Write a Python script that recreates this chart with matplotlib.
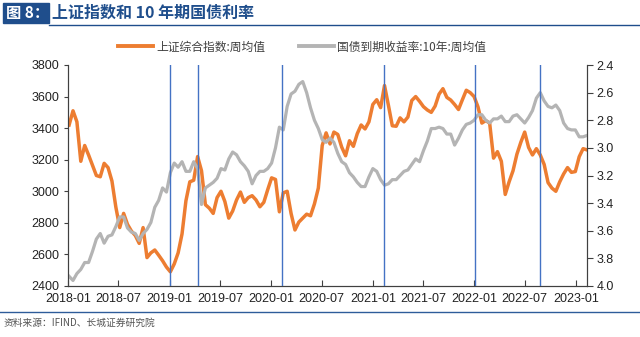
import pandas as pd
import matplotlib.pyplot as plt
import matplotlib.dates as mdates
from matplotlib.patches import Rectangle
from matplotlib.lines import Line2D

CJK = ['Noto Sans CJK SC', 'DejaVu Sans']
plt.rcParams['font.family'] = ['Liberation Sans', 'Noto Sans CJK SC']

# biweekly samples
dates = pd.date_range('2018-01-05', periods=134, freq='14D')

sh_index = [
    3420, 3510, 3440, 3190, 3290, 3230, 3165, 3100, 3092, 3177,
    3150, 3065, 2900, 2770, 2860, 2790, 2748, 2720, 2670, 2770,
    2580, 2610, 2628, 2595, 2560, 2520, 2490, 2540, 2610, 2730,
    2940, 3060, 3070, 3220, 3130, 2915, 2893, 2860, 2960, 3000,
    2935, 2830, 2875, 2945, 2995, 2930, 2960, 2972, 2945, 2902,
    2930, 3010, 3085, 3075, 2870, 2990, 3000, 2860, 2755, 2805,
    2830, 2855, 2845, 2920, 3020, 3290, 3370, 3300, 3375, 3360,
    3280, 3225, 3320, 3285, 3365, 3420, 3395, 3440, 3550, 3580,
    3530, 3670, 3545, 3415, 3412, 3465, 3440, 3470, 3575, 3600,
    3570, 3536, 3515, 3500, 3540, 3615, 3650, 3595, 3578, 3550,
    3518, 3580, 3640, 3625, 3600, 3535, 3432, 3448, 3432, 3210,
    3251, 3190, 2980, 3060, 3130, 3235, 3310, 3375, 3278, 3230,
    3270, 3230, 3170, 3055, 3020, 3000, 3060, 3110, 3150, 3120,
    3125, 3219, 3270, 3262,
]

cn10y = [
    3.93, 3.96, 3.91, 3.88, 3.83, 3.83, 3.75, 3.66, 3.62, 3.69,
    3.64, 3.63, 3.57, 3.50, 3.50, 3.58, 3.61, 3.62, 3.67, 3.62,
    3.59, 3.54, 3.43, 3.38, 3.29, 3.32, 3.18, 3.11, 3.14, 3.10,
    3.17, 3.17, 3.10, 3.15, 3.41, 3.29, 3.27, 3.25, 3.22, 3.15,
    3.16, 3.08, 3.03, 3.05, 3.10, 3.13, 3.17, 3.26, 3.20, 3.17,
    3.17, 3.15, 3.11, 3.00, 2.85, 2.87, 2.70, 2.61, 2.59, 2.54,
    2.52, 2.60, 2.71, 2.80, 2.86, 2.94, 2.96, 2.93, 2.96, 3.04,
    3.10, 3.12, 3.18, 3.21, 3.25, 3.28, 3.28, 3.21, 3.15, 3.17,
    3.23, 3.27, 3.26, 3.23, 3.23, 3.20, 3.17, 3.16, 3.12, 3.08,
    3.10, 3.02, 2.95, 2.86, 2.86, 2.85, 2.86, 2.90, 2.90, 2.98,
    2.93, 2.87, 2.83, 2.82, 2.80, 2.76, 2.76, 2.80, 2.82, 2.79,
    2.79, 2.77, 2.81, 2.81, 2.77, 2.76, 2.79, 2.82, 2.78, 2.73,
    2.64, 2.60, 2.66, 2.70, 2.71, 2.69, 2.73, 2.82, 2.86, 2.87,
    2.87, 2.92, 2.92, 2.91,
]

event_dates = ['2019-01-02', '2019-04-12', '2020-02-10',
               '2021-02-09', '2022-01-02', '2022-08-26']

label_sh = '上证综合指数:周均值'
label_bond = '国债到期收益率:10年:周均值'
title = '上证指数和 10 年期国债利率'
fig_no = '图 8：'
source = '资料来源：IFIND、长城证券研究院'

ORANGE = '#ED7D31'
GRAY = '#B4B4B4'
BLUE = '#4472C4'
NAVY = '#1F4E8C'

W, H = 640, 337
fig = plt.figure(figsize=(W / 100, H / 100), dpi=100)


def fx(px):
    return px / W


def fy(py):
    return 1 - py / H


ax = fig.add_axes([fx(68), fy(286), fx(587) - fx(68), fy(65) - fy(286)])
ax2 = ax.twinx()

ax.plot(dates, sh_index, color=ORANGE, lw=2.5, solid_joinstyle='round', zorder=2)
ax2.plot(dates, cn10y, color=GRAY, lw=2.3, solid_joinstyle='round', zorder=2)
for d in event_dates:
    ax2.axvline(pd.Timestamp(d), color=BLUE, lw=1.0, zorder=5)

ax.set_xlim(pd.Timestamp('2018-01-01'), dates[-1])
ax.set_ylim(2400, 3800)
ax.set_yticks(range(2400, 3801, 200))
ax2.set_ylim(4.0, 2.4)
ax2.set_yticks([2.4, 2.6, 2.8, 3.0, 3.2, 3.4, 3.6, 3.8, 4.0])
ax2.yaxis.set_major_formatter(plt.FormatStrFormatter('%.1f'))

xt = pd.date_range('2018-01-01', '2023-01-01', freq='6MS')
ax.set_xticks(xt)
ax.xaxis.set_major_formatter(mdates.DateFormatter('%Y-%m'))

for a in (ax, ax2):
    a.spines['top'].set_visible(False)
    for s in a.spines.values():
        s.set_color('#404040')
        s.set_linewidth(0.8)
ax.tick_params(axis='x', direction='in', length=4, width=0.8, labelsize=9,
               colors='#404040', labelcolor='#222222', pad=5)
ax.tick_params(axis='y', direction='out', length=3, width=0.8, labelsize=9,
               colors='#404040', labelcolor='#222222', pad=3)
ax2.tick_params(axis='y', direction='out', length=4, width=0.8, labelsize=9,
                colors='#404040', labelcolor='#222222', pad=3)

handles = [Line2D([], [], color=ORANGE, lw=2.8),
           Line2D([], [], color=GRAY, lw=2.8)]
fig.legend(handles, [label_sh, label_bond], loc='center', ncol=2,
           bbox_to_anchor=(fx(302), fy(47)), frameon=False,
           prop={'family': CJK, 'size': 8.5}, labelcolor='#404040',
           handlelength=3.0, handletextpad=0.3, columnspacing=2.8)

# header
fig.patches.append(Rectangle((fx(3), fy(23)), fx(46), fy(3) - fy(23),
                             transform=fig.transFigure, color=NAVY, zorder=1))
fig.text(fx(6), fy(13), fig_no, color='white', fontsize=11, fontweight='bold',
         family=CJK, va='center', ha='left')
fig.text(fx(52), fy(13), title, color=NAVY, fontsize=11.5, fontweight='bold',
         family=CJK, va='center', ha='left')
fig.add_artist(Line2D([fx(49), 1], [fy(24.5), fy(24.5)], transform=fig.transFigure,
                      color=NAVY, lw=1.0))

# footer
fig.add_artist(Line2D([0, 1], [fy(312), fy(312)], transform=fig.transFigure,
                      color='#2E5C9A', lw=1.0))
fig.text(fx(4), fy(323), source, color='#555555', fontsize=7, family=CJK,
         va='center', ha='left', style='italic')

fig.savefig('out.png', dpi=100)
